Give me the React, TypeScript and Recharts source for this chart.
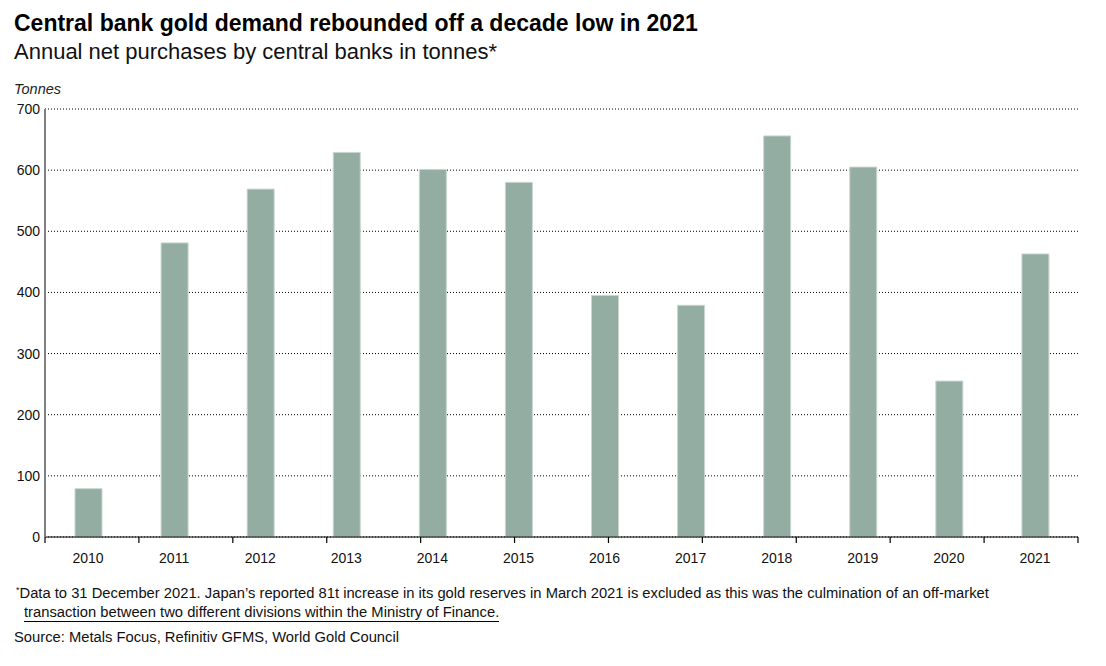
import React from 'react';
import { BarChart, Bar, XAxis, YAxis, CartesianGrid } from 'recharts';

const years = ['2010', '2011', '2012', '2013', '2014', '2015', '2016', '2017', '2018', '2019', '2020', '2021'];
const purchases = [79, 481, 569, 629, 601, 580, 395, 379, 656, 605, 255, 463];
const yTicks = [0, 100, 200, 300, 400, 500, 600, 700];
const edgeTicks = [0, 1, 2, 3, 4, 5, 6, 7, 8, 9, 10, 11, 12];

const data = years.map((y, i) => ({ year: y, value: purchases[i] }));

const FONT = '"Liberation Sans", Arial, Helvetica, sans-serif';

export default function App() {
  return (
    <div style={{ position: 'absolute', left: 0, top: 0, width: 1106, height: 666, background: '#fff', fontFamily: FONT, color: '#000' }}>
      <div style={{ position: 'absolute', left: 14, top: 9, fontSize: 23, fontWeight: 700, whiteSpace: 'nowrap', lineHeight: '28px' }}>
        Central bank gold demand rebounded off a decade low in 2021
      </div>
      <div style={{ position: 'absolute', left: 14, top: 39, fontSize: 22, fontWeight: 300, whiteSpace: 'nowrap', color: '#111', lineHeight: '26px' }}>
        Annual net purchases by central banks in tonnes*
      </div>
      <div style={{ position: 'absolute', left: 14, top: 80, fontSize: 14.5, fontStyle: 'italic', whiteSpace: 'nowrap', color: '#222', lineHeight: '18px' }}>
        Tonnes
      </div>
      <div style={{ position: 'absolute', left: 0, top: 0 }}>
        <BarChart width={1106} height={580} data={data} margin={{ top: 109, right: 28, left: 0, bottom: 13 }}>
          <CartesianGrid horizontal vertical={false} stroke="#000" strokeDasharray="1 2" xAxisId="b" />
          <XAxis
            xAxisId="a"
            type="number"
            domain={[0, 12]}
            ticks={edgeTicks}
            allowDataOverflow
            height={1}
            axisLine={{ stroke: '#000', strokeWidth: 1.2 }}
            tickLine={{ stroke: '#000', strokeWidth: 1.2 }}
            tickSize={6}
            tick={{ fill: 'transparent', fontSize: 1 }}
            tickFormatter={() => ''}
            interval={0}
          />
          <XAxis
            xAxisId="b"
            dataKey="year"
            height={29}
            axisLine={false}
            tickLine={false}
            tickMargin={9}
            tick={{ fill: '#111', fontSize: 14, fontFamily: FONT }}
            interval={0}
          />
          <YAxis
            domain={[0, 700]}
            ticks={yTicks}
            width={45}
            axisLine={{ stroke: '#808080', strokeWidth: 2 }}
            tickLine={false}
            tickSize={0}
            tickMargin={5}
            tick={{ fill: '#111', fontSize: 14, fontFamily: FONT }}
            interval={0}
          />
          <Bar xAxisId="b" dataKey="value" fill="#93ADA2" stroke="#c9d6d0" strokeWidth={1} barSize={27} isAnimationActive={false} />
        </BarChart>
      </div>
      <div style={{ position: 'absolute', left: 16, top: 584, fontSize: 14.75, whiteSpace: 'nowrap', color: '#111', lineHeight: '18px' }}>
        <sup style={{ fontSize: 9, verticalAlign: 'top', lineHeight: '12px' }}>*</sup>Data to 31 December 2021. Japan’s reported 81t increase in its gold reserves in March 2021 is excluded as this was the culmination of an off-market
      </div>
      <div style={{ position: 'absolute', left: 24, top: 603, fontSize: 14.75, whiteSpace: 'nowrap', color: '#111', lineHeight: '18px', borderBottom: '1.5px solid #000' }}>
        transaction between two different divisions within the Ministry of Finance.
      </div>
      <div style={{ position: 'absolute', left: 14, top: 628, fontSize: 14.75, whiteSpace: 'nowrap', color: '#111', lineHeight: '18px' }}>
        Source: Metals Focus, Refinitiv GFMS, World Gold Council
      </div>
    </div>
  );
}
